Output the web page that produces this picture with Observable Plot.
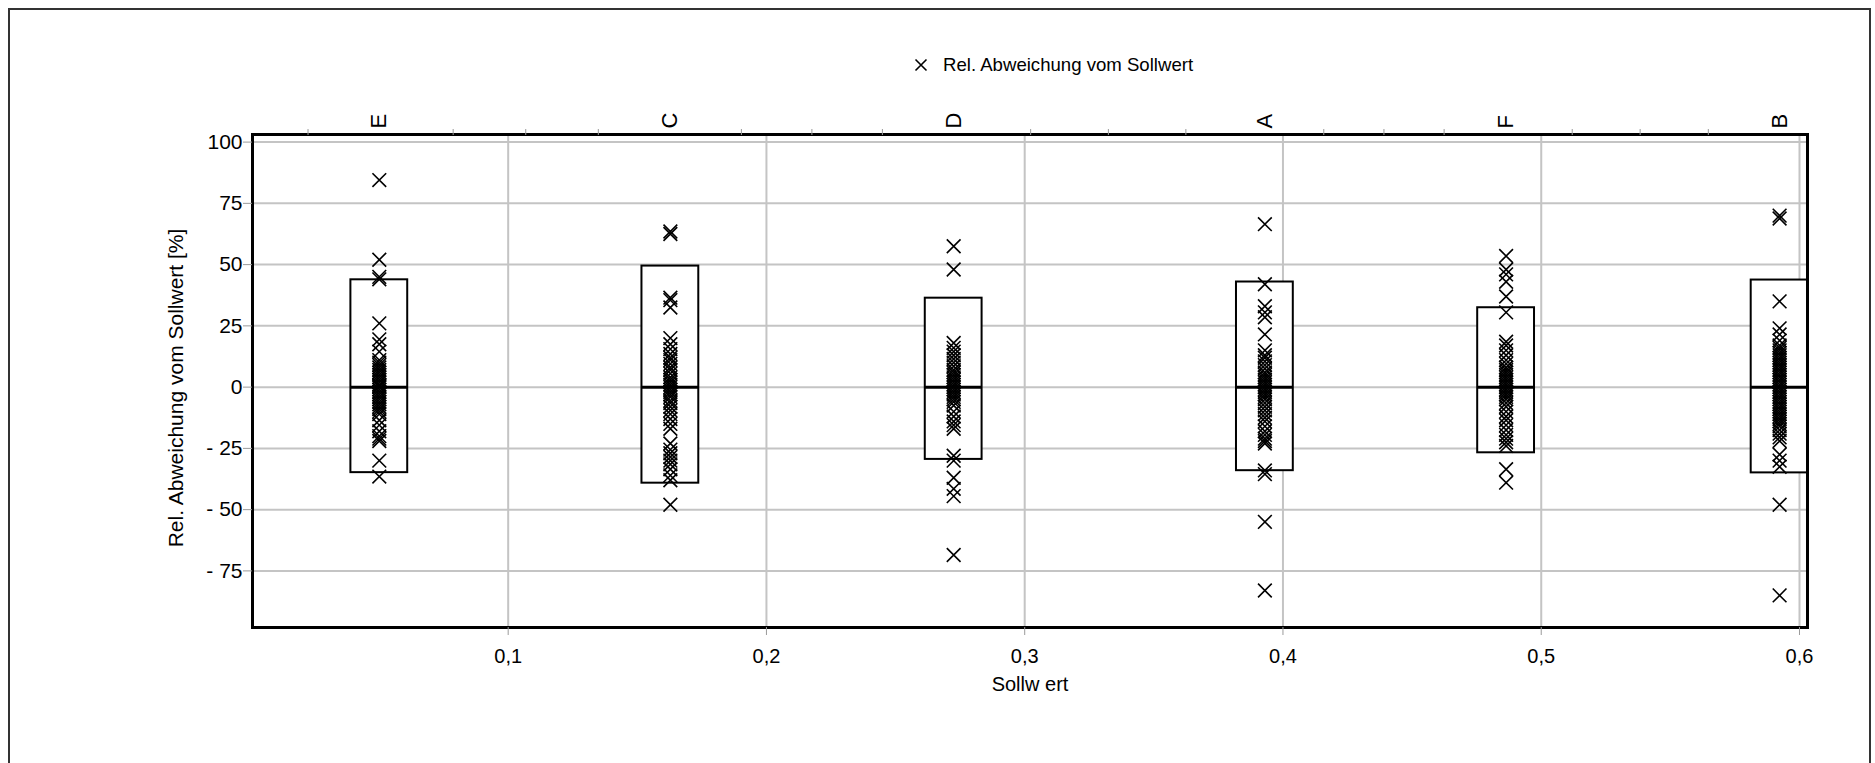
<!DOCTYPE html>
<html><head><meta charset="utf-8">
<script src="https://cdn.jsdelivr.net/npm/d3@7"></script>
<script src="https://cdn.jsdelivr.net/npm/@observablehq/plot@0.6"></script>
<style>
html,body{margin:0;padding:0;background:#fff;}
#wrap{position:relative;width:1875px;height:763px;overflow:hidden;font-family:"Liberation Sans",Arial,sans-serif;}
#border{position:absolute;left:8px;top:8px;width:1863px;height:760px;border:2px solid #333;box-sizing:border-box;pointer-events:none;}
#legend{position:absolute;left:914px;top:55px;font-size:18.6px;line-height:20px;display:flex;align-items:center;gap:15px;color:#000;}
#legend svg{display:block;}
</style></head><body>
<div id="wrap"><div id="chart"></div>
<div id="legend"><svg width="14" height="14"><path d="M1.5,1.5L12.5,12.5M1.5,12.5L12.5,1.5" stroke="#000" stroke-width="1.6" fill="none"/></svg><span>Rel. Abweichung vom Sollwert</span></div>
<div id="border"></div></div>
<script>
// ---- data ----
const categories = ["E", "C", "D", "A", "F", "B"];
const sollwert = [0.0501, 0.1628, 0.2725, 0.3930, 0.4864, 0.5923];
const boxHigh = [43.8, 49.4, 36.3, 42.9, 32.4, 43.7];
const boxLow = [-34.9, -39.2, -29.5, -34.1, -26.8, -35.0];
const medians = [0, 0, 0, 0, 0, 0];

const valsE = [84.5, 52, 45, 44, 26, 19.5, 17.5, 14.5, 11, 10, 9, 8, 7, 6, 5, 4, 3, 2, 1, 0.5, 0, -1, -2, -3, -4, -5, -6, -7, -8, -9, -10, -11, -13.5, -15.5, -18, -20, -21, -22, -30, -36.5];
const valsC = [63.5, 62.5, 36.5, 35.5, 32.5, 20, 17.5, 15.5, 13.5, 12, 11, 9.5, 8, 7, 5.5, 4, 3, 2, 1, 0, -1, -2, -3, -4, -5.5, -6.5, -8, -9.5, -11, -13, -15, -17, -23, -25.5, -27, -28.5, -30, -31.5, -33.5, -36, -38, -48];
const valsD = [57.5, 48, 18, 16, 14.5, 13, 11.5, 10, 8.5, 7, 6, 5, 4, 3, 2, 1, 0, -1, -2, -3, -4, -5, -6, -7.5, -10, -12, -14, -15.5, -17, -28, -30, -37, -41.5, -44.5, -68.5];
const valsA = [66.5, 42, 33, 30.5, 28.5, 21.5, 15, 13, 12, 10.5, 9, 7.5, 6, 5, 4, 3, 2, 1, 0, -1, -2, -3, -4, -5, -6.5, -8, -9.5, -11, -12.5, -14, -16, -18, -19.5, -21, -22, -23, -34, -35.5, -55, -83];
const valsF = [53.5, 48, 46, 43, 37, 30.5, 18.5, 17, 15, 13, 11, 9.5, 8, 7, 6, 5, 4, 3, 2, 1, 0, -1, -2, -3, -4, -5, -6.5, -8, -10, -12, -13.5, -15.5, -17.5, -19.5, -21, -22.5, -24, -33.5, -39];
const valsB = [70, 68.8, 35, 24, 21.5, 19, 17, 16, 15, 14, 13, 12, 11, 10, 9, 8, 7, 6, 5, 4, 3, 2, 1, 0, -1, -2, -3, -4, -5, -6, -7, -8, -9, -10, -11, -12, -13, -14, -15, -16, -17.5, -19, -20.5, -22, -27.5, -30, -32.5, -48, -85];

const yTicks = [-75, -50, -25, 0, 25, 50, 75, 100];
const xTicks = [0.1, 0.2, 0.3, 0.4, 0.5, 0.6];
const topTicks = [0.0225, 0.0787, 0.1068, 0.1349, 0.1903, 0.2176, 0.2449, 0.3023, 0.3324, 0.3624, 0.4158, 0.4391, 0.4624, 0.5120, 0.5383, 0.5647];

// ---- tables built from the arrays ----
const series = [valsE, valsC, valsD, valsA, valsF, valsB];
const points = categories.flatMap((c, i) => series[i].map(v => ({cat: c, x: sollwert[i], y: v})));
const boxHalf = 0.011;
const boxes = categories.map((c, i) => ({cat: c, x: sollwert[i], x1: sollwert[i] - boxHalf, x2: sollwert[i] + boxHalf, lo: boxLow[i], hi: boxHigh[i], med: medians[i]}));

const fmtX = d => d.toFixed(1).replace(".", ",");
const fmtY = d => d < 0 ? "- " + (-d) : String(d);

const chart = Plot.plot({
  width: 1875,
  height: 763,
  marginLeft: 252,
  marginRight: 68,
  marginTop: 134,
  marginBottom: 136,
  style: {fontFamily: '"Liberation Sans", Arial, sans-serif', fontSize: "20px", color: "#000", background: "transparent"},
  x: {domain: [0.001, 0.6031]},
  y: {domain: [-98.1, 103.1]},
  marks: [
    Plot.gridX(xTicks, {stroke: "#c4c4c4", strokeOpacity: 1, strokeWidth: 2}),
    Plot.gridY(yTicks, {stroke: "#c4c4c4", strokeOpacity: 1, strokeWidth: 2}),
    Plot.rect(boxes, {x1: "x1", x2: "x2", y1: "lo", y2: "hi", fill: "#fff", stroke: "#000", strokeWidth: 2}),
    Plot.ruleY(boxes, {y: "med", x1: "x1", x2: "x2", stroke: "#000", strokeWidth: 3}),
    Plot.dot(points, {x: "x", y: "y", symbol: "times", r: 6.3, stroke: "#000", strokeWidth: 1.6}),
    Plot.frame({stroke: "#000", strokeWidth: 3}),
    Plot.axisY({ticks: yTicks, tickFormat: fmtY, tickSize: 9, tickPadding: 1, stroke: "#9a9a9a", fill: "#000", fontSize: 21, label: null}),
    Plot.axisX({anchor: "bottom", ticks: xTicks, tickFormat: fmtX, tickSize: 8, tickPadding: 13, stroke: "#9a9a9a", fill: "#000", fontSize: 20, label: null}),
    Plot.axisX({anchor: "top", ticks: topTicks, tickFormat: () => "", tickSize: 6, stroke: "#9a9a9a", label: null}),
    Plot.text(boxes, {x: "x", text: "cat", frameAnchor: "top", dy: -6, rotate: -90, textAnchor: "start", lineAnchor: "middle", fill: "#000", fontSize: 22}),
    Plot.text(["Sollw ert"], {frameAnchor: "bottom", dy: 57, lineAnchor: "middle", textAnchor: "middle", fill: "#000", fontSize: 20}),
    Plot.text(["Rel. Abweichung vom Sollwert [%]"], {frameAnchor: "left", dx: -76, dy: 7, rotate: -90, textAnchor: "middle", lineAnchor: "middle", fill: "#000", fontSize: 21})
  ]
});
document.getElementById("chart").appendChild(chart);
</script>
</body></html>
